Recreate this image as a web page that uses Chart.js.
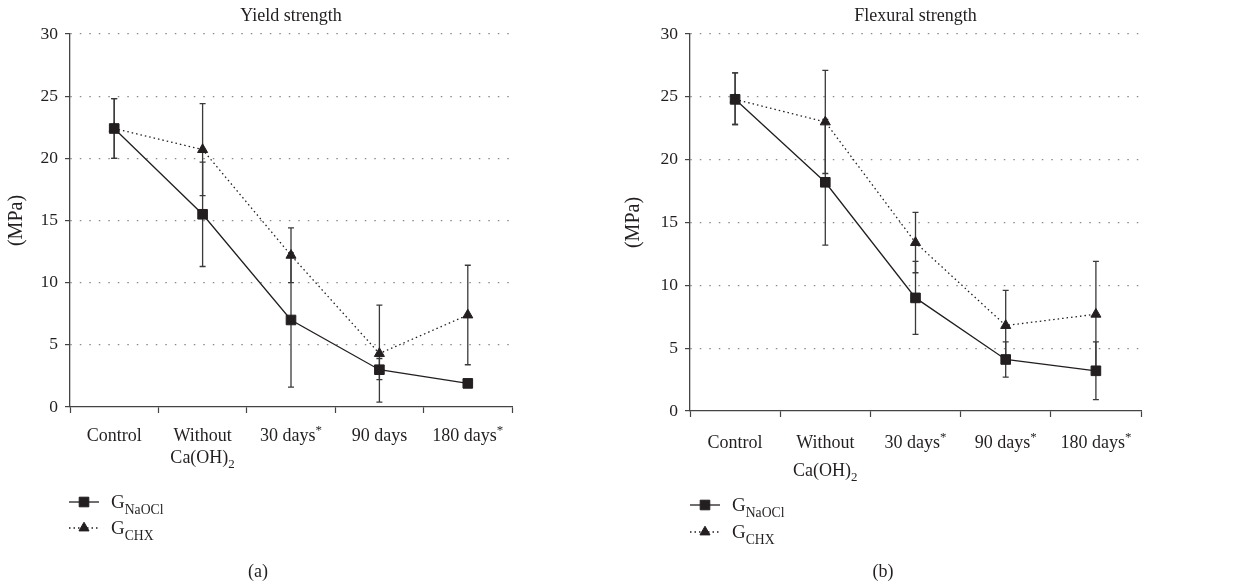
<!DOCTYPE html>
<html>
<head>
<meta charset="utf-8">
<script src="https://cdn.jsdelivr.net/npm/chart.js@4.4.1/dist/chart.umd.min.js"></script>
<style>
    html, body { margin: 0; padding: 0; background: #fff; }
    #wrap { position: relative; width: 1234px; height: 586px; }
    canvas { position: absolute; top: 0; }
    #yieldChart { left: 0; }
    #flexChart { left: 617px; }
</style>
</head>
<body>
<div id="wrap">
    <canvas id="yieldChart" width="617" height="586"></canvas>
    <canvas id="flexChart" width="617" height="586"></canvas>
</div>
<script>
// Etiquetas del eje x (_{..} = subíndice, ^{..} = superíndice)
const yieldLabels = [['Control'], ['Without', 'Ca(OH)_{2}'], ['30 days^{*}'], ['90 days'], ['180 days^{*}']];
const flexLabels = [['Control'], ['Without', 'Ca(OH)_{2}'], ['30 days^{*}'], ['90 days^{*}'], ['180 days^{*}']];
const yTicks = [0, 5, 10, 15, 20, 25, 30];
const seriesNames = ['G_{NaOCl}', 'G_{CHX}'];

// Yield strength (MPa)
const yieldNaOCl = [22.4, 15.5, 7.0, 3.0, 1.9];
const yieldNaOClLow = [20.0, 11.3, 1.6, 2.2, 1.6];
const yieldNaOClHigh = [24.8, 19.7, 12.4, 3.9, 2.2];
const yieldCHX = [22.4, 20.7, 12.2, 4.3, 7.4];
const yieldCHXLow = [20.0, 17.0, 10.0, 0.4, 3.4];
const yieldCHXHigh = [24.8, 24.4, 14.4, 8.2, 11.4];

// Flexural strength (MPa)
const flexNaOCl = [24.8, 18.2, 9.0, 4.1, 3.2];
const flexNaOClLow = [22.8, 13.2, 6.1, 2.7, 0.9];
const flexNaOClHigh = [26.9, 23.2, 11.9, 5.5, 5.5];
const flexCHX = [24.8, 23.0, 13.4, 6.8, 7.7];
const flexCHXLow = [22.8, 18.9, 11.0, 4.0, 3.4];
const flexCHXHigh = [26.9, 27.1, 15.8, 9.6, 11.9];

const FUENTE = '"Liberation Serif", "DejaVu Serif", serif';
const TINTA = '#231f20';

// Separa un texto en partes normales, subíndices y superíndices
function partes(texto) {
    const out = [];
    const re = /([_^])\{([^}]*)\}/g;
    let last = 0, m;
    while ((m = re.exec(texto))) {
        if (m.index > last) out.push({ t: texto.slice(last, m.index), tipo: 'n' });
        out.push({ t: m[2], tipo: m[1] === '_' ? 'sub' : 'sup' });
        last = re.lastIndex;
    }
    if (last < texto.length) out.push({ t: texto.slice(last), tipo: 'n' });
    return out;
}

// Dibuja texto con sub/superíndices
function textoRico(ctx, texto, x, y, size, align) {
    const ps = partes(texto);
    const medida = p => {
        const s = p.tipo === 'n' ? size : size * 0.72;
        ctx.font = s + 'px ' + FUENTE;
        return ctx.measureText(p.t).width;
    };
    const total = ps.reduce((acc, p) => acc + medida(p), 0);
    let cx = align === 'center' ? x - total / 2 : x;
    ctx.textAlign = 'left';
    ctx.textBaseline = 'alphabetic';
    ctx.fillStyle = TINTA;
    ps.forEach(p => {
        const s = p.tipo === 'n' ? size : size * 0.72;
        const dy = p.tipo === 'sub' ? size * 0.3 : (p.tipo === 'sup' ? -size * 0.38 : 0);
        ctx.font = s + 'px ' + FUENTE;
        ctx.fillText(p.t, cx, y + dy);
        cx += ctx.measureText(p.t).width;
    });
}

// Plugin: barras de error, título, etiquetas x, leyenda y rótulo
const extras = {
    id: 'extras',
    beforeDatasetsDraw(chart) {
        const ctx = chart.ctx;
        const yScale = chart.scales.y;
        ctx.save();
        ctx.strokeStyle = '#3a3a3a';
        ctx.lineWidth = 1.3;
        chart.data.datasets.forEach((ds, i) => {
            const meta = chart.getDatasetMeta(i);
            meta.data.forEach((pt, j) => {
                const y1 = yScale.getPixelForValue(ds.errorLow[j]);
                const y2 = yScale.getPixelForValue(ds.errorHigh[j]);
                ctx.beginPath();
                ctx.moveTo(pt.x, y1); ctx.lineTo(pt.x, y2);
                ctx.moveTo(pt.x - 3, y1); ctx.lineTo(pt.x + 3, y1);
                ctx.moveTo(pt.x - 3, y2); ctx.lineTo(pt.x + 3, y2);
                ctx.stroke();
            });
        });
        ctx.restore();
    },
    afterDraw(chart, args, opts) {
        const ctx = chart.ctx;
        const area = chart.chartArea;
        const xScale = chart.scales.x;
        ctx.save();
        // título
        textoRico(ctx, opts.titulo, (area.left + area.right) / 2, 21, 18, 'center');
        // etiquetas de categorías
        opts.etiquetas.forEach((lineas, i) => {
            const x = xScale.getPixelForValue(i);
            lineas.forEach((l, k) => {
                textoRico(ctx, l, x, area.bottom + opts.etiquetaY + k * opts.saltoLinea, 18, 'center');
            });
        });
        // leyenda
        chart.data.datasets.forEach((ds, i) => {
            const y = opts.leyendaY[i];
            const x0 = opts.leyendaX;
            ctx.strokeStyle = ds.borderColor;
            ctx.lineWidth = ds.borderWidth;
            ctx.setLineDash(ds.borderDash || []);
            ctx.beginPath();
            ctx.moveTo(x0, y); ctx.lineTo(x0 + 30, y);
            ctx.stroke();
            ctx.setLineDash([]);
            ctx.fillStyle = ds.pointBackgroundColor;
            ctx.strokeStyle = ds.pointBorderColor;
            ctx.lineWidth = 1;
            Chart.helpers.drawPoint(ctx, { pointStyle: ds.pointStyle, radius: ds.pointRadius, rotation: 0, borderWidth: 1 }, x0 + 15, y);
            textoRico(ctx, ds.label, x0 + 42, y + 6, 19, 'left');
        });
        // rótulo (a)/(b)
        textoRico(ctx, opts.rotulo, opts.rotuloX, 577, 18, 'center');
        ctx.restore();
    }
};

function crearGrafico(id, titulo, etiquetas, naocl, naoclLow, naoclHigh, chx, chxLow, chxHigh, disp) {
    const ctx = document.getElementById(id).getContext('2d');
    return new Chart(ctx, {
        type: 'line',
        data: {
            labels: etiquetas.map(l => l.join(' ')),
            datasets: [{
                label: seriesNames[0],
                data: naocl,
                errorLow: naoclLow,
                errorHigh: naoclHigh,
                borderColor: TINTA,
                borderWidth: 1.3,
                pointStyle: 'rect',
                pointRadius: 6.8,
                pointBackgroundColor: TINTA,
                pointBorderColor: TINTA,
                pointBorderWidth: 1,
                tension: 0
            }, {
                label: seriesNames[1],
                data: chx,
                errorLow: chxLow,
                errorHigh: chxHigh,
                borderColor: TINTA,
                borderWidth: 1.3,
                borderDash: [1.5, 3],
                pointStyle: 'triangle',
                pointRadius: 5.8,
                pointBackgroundColor: TINTA,
                pointBorderColor: TINTA,
                pointBorderWidth: 1,
                tension: 0
            }]
        },
        options: {
            responsive: false,
            animation: false,
            layout: { padding: disp.padding },
            plugins: {
                legend: { display: false },
                tooltip: { enabled: false },
                extras: {
                    titulo: titulo,
                    etiquetas: etiquetas,
                    etiquetaY: disp.etiquetaY,
                    saltoLinea: disp.saltoLinea,
                    leyendaX: disp.leyendaX,
                    leyendaY: disp.leyendaY,
                    rotulo: disp.rotulo,
                    rotuloX: disp.rotuloX
                }
            },
            scales: {
                x: {
                    offset: true,
                    afterFit: s => { s.height = 20; },
                    ticks: { display: false },
                    grid: { offset: true, drawOnChartArea: false, drawTicks: true, tickLength: 6, tickColor: '#444', tickWidth: 1.2 },
                    border: { display: true, color: '#444', width: 1.3 }
                },
                y: {
                    min: yTicks[0],
                    max: yTicks[yTicks.length - 1],
                    afterFit: s => { s.width = disp.anchoEjeY; },
                    afterBuildTicks: s => { s.ticks = yTicks.map(v => ({ value: v })); },
                    ticks: { color: TINTA, font: { family: FUENTE, size: 17.5 }, padding: 7 },
                    grid: {
                        color: c => (c.tick && c.tick.value === 0) ? 'rgba(0,0,0,0)' : '#8a8a8a',
                        lineWidth: 1.2,
                        drawTicks: true,
                        tickLength: 5,
                        tickColor: '#444',
                        tickWidth: 1.2,
                        tickBorderDash: []
                    },
                    border: { display: true, color: '#444', width: 1.3, dash: [1.5, 8] },
                    title: { display: true, text: '(MPa)', color: TINTA, font: { family: FUENTE, size: 20 }, padding: { top: 5, bottom: 0 } }
                }
            }
        },
        plugins: [extras]
    });
}

crearGrafico('yieldChart', 'Yield strength', yieldLabels,
    yieldNaOCl, yieldNaOClLow, yieldNaOClHigh, yieldCHX, yieldCHXLow, yieldCHXHigh, {
        anchoEjeY: 70,
        padding: { left: 0, top: 34, right: 105, bottom: 159 },
        etiquetaY: 34, saltoLinea: 22,
        leyendaX: 69, leyendaY: [502, 528],
        rotulo: '(a)', rotuloX: 258
    });

crearGrafico('flexChart', 'Flexural strength', flexLabels,
    flexNaOCl, flexNaOClLow, flexNaOClHigh, flexCHX, flexCHXLow, flexCHXHigh, {
        anchoEjeY: 73,
        padding: { left: 0, top: 34, right: 93, bottom: 155 },
        etiquetaY: 37, saltoLinea: 28,
        leyendaX: 73, leyendaY: [505, 532],
        rotulo: '(b)', rotuloX: 266
    });
</script>
</body>
</html>
